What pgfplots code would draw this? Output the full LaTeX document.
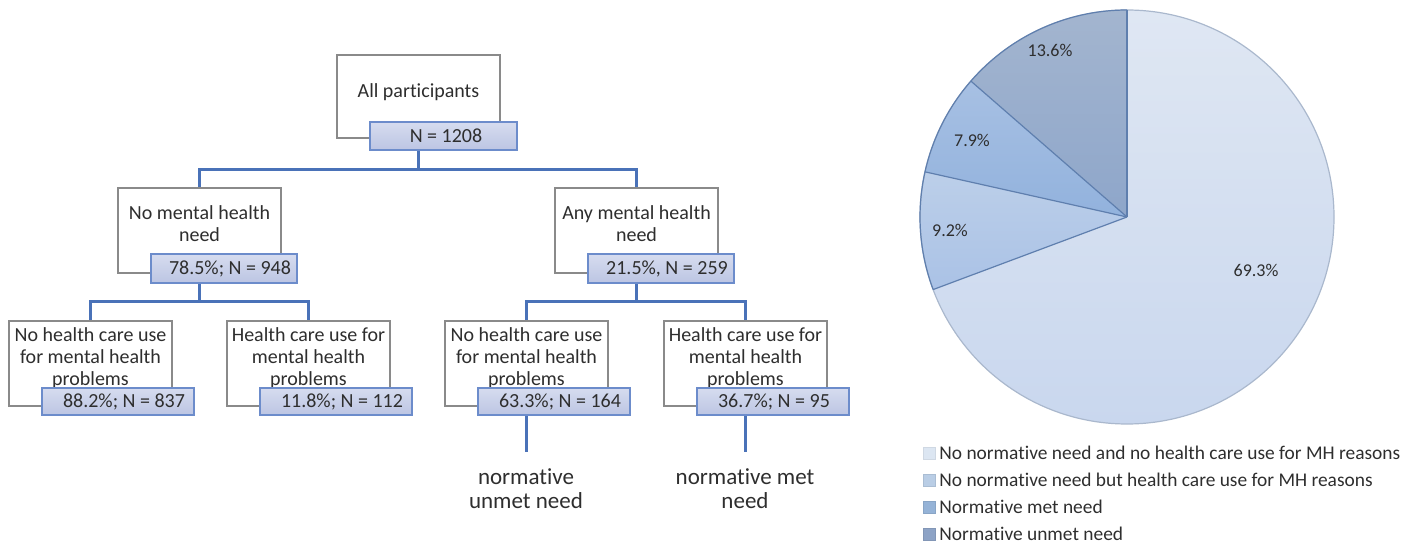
\documentclass[border=0pt]{standalone}
\usepackage{fontspec}
\setmainfont{Carlito}[Ligatures=NoCommon]
\usepackage{pgfplots}
\pgfplotsset{compat=1.18}
\definecolor{linkblue}{HTML}{4A72B8}
\definecolor{boxgray}{HTML}{8A8A8A}
\definecolor{nfillT}{HTML}{D6DCEF}
\definecolor{nfillB}{HTML}{BCC5E3}
\definecolor{nborder}{HTML}{6C8CCB}
\definecolor{txt}{HTML}{2E2E2E}
\definecolor{pieA1}{HTML}{DFE7F3}
\definecolor{pieA2}{HTML}{C9D7EE}
\definecolor{pieB1}{HTML}{BCCFE9}
\definecolor{pieB2}{HTML}{AAC2E6}
\definecolor{pieC1}{HTML}{A7C0E3}
\definecolor{pieC2}{HTML}{92B2DD}
\definecolor{pieD1}{HTML}{A3B5CF}
\definecolor{pieD2}{HTML}{8EA6CA}
\definecolor{pieEdge}{HTML}{5F7FAE}
\definecolor{pieOuter}{HTML}{AAB8CD}
\definecolor{legA}{HTML}{DCE6F2}
\definecolor{legB}{HTML}{B9CDE5}
\definecolor{legC}{HTML}{95B3D7}
\definecolor{legD}{HTML}{8DA3C6}
% pie shares (percent)
\def\pA{69.3}\def\pB{9.2}\def\pC{7.9}\def\pD{13.6}
\def\R{103.5pt}
\newcommand{\treefont}{\fontsize{10}{10.9}\selectfont}
\begin{document}
\begin{tikzpicture}
\begin{axis}[
  scale only axis, width=711pt, height=273pt,
  xmin=0, xmax=1422, ymin=0, ymax=546,
  hide axis, clip=false]
\path (axis cs:0,0) rectangle (axis cs:1422,546);
% ---------- tree connectors ----------
\draw[linkblue, line width=1.5pt] (axis cs:418,396) -- (axis cs:418,376);
\draw[linkblue, line width=1.5pt] (axis cs:199,358) -- (axis cs:199,376) -- (axis cs:636,376) -- (axis cs:636,358);
\draw[linkblue, line width=1.5pt] (axis cs:199,263) -- (axis cs:199,244);
\draw[linkblue, line width=1.5pt] (axis cs:90,225) -- (axis cs:90,244) -- (axis cs:308,244) -- (axis cs:308,225);
\draw[linkblue, line width=1.5pt] (axis cs:636,263) -- (axis cs:636,244);
\draw[linkblue, line width=1.5pt] (axis cs:526,225) -- (axis cs:526,244) -- (axis cs:745,244) -- (axis cs:745,225);
\draw[linkblue, line width=1.5pt] (axis cs:526,131) -- (axis cs:526,94);
\draw[linkblue, line width=1.5pt] (axis cs:745,131) -- (axis cs:745,94);
% ---------- white boxes ----------
\draw[boxgray, line width=0.7pt, fill=white] (axis cs:337,491) rectangle (axis cs:500,408);
\draw[boxgray, line width=0.7pt, fill=white] (axis cs:118,358) rectangle (axis cs:281,273);
\draw[boxgray, line width=0.7pt, fill=white] (axis cs:555,358) rectangle (axis cs:718,273);
\draw[boxgray, line width=0.7pt, fill=white] (axis cs:9,225) rectangle (axis cs:172,140);
\draw[boxgray, line width=0.7pt, fill=white] (axis cs:227,225) rectangle (axis cs:390,140);
\draw[boxgray, line width=0.7pt, fill=white] (axis cs:445,225) rectangle (axis cs:608,140);
\draw[boxgray, line width=0.7pt, fill=white] (axis cs:664,225) rectangle (axis cs:827,140);
\node[txt, font=\treefont, align=center, inner sep=0pt] at (axis cs:418.5,454) {All participants};
\node[txt, font=\treefont, align=center, inner sep=0pt] at (axis cs:199.5,322) {No mental health\\need};
\node[txt, font=\treefont, align=center, inner sep=0pt] at (axis cs:636.5,322) {Any mental health\\need};
\node[txt, font=\treefont, align=center, inner sep=0pt] at (axis cs:90.5,188) {No health care use\\for mental health\\problems};
\node[txt, font=\treefont, align=center, inner sep=0pt] at (axis cs:308.5,188) {Health care use for\\mental health\\problems};
\node[txt, font=\treefont, align=center, inner sep=0pt] at (axis cs:526.5,188) {No health care use\\for mental health\\problems};
\node[txt, font=\treefont, align=center, inner sep=0pt] at (axis cs:745.5,188) {Health care use for\\mental health\\problems};
% ---------- blue boxes ----------
\path[top color=nfillT, bottom color=nfillB, draw=nborder, line width=0.8pt] (axis cs:370,424) rectangle (axis cs:517,396);
\path[top color=nfillT, bottom color=nfillB, draw=nborder, line width=0.8pt] (axis cs:151,292) rectangle (axis cs:297,263);
\path[top color=nfillT, bottom color=nfillB, draw=nborder, line width=0.8pt] (axis cs:588,292) rectangle (axis cs:734,263);
\path[top color=nfillT, bottom color=nfillB, draw=nborder, line width=0.8pt] (axis cs:42,158) rectangle (axis cs:194,131);
\path[top color=nfillT, bottom color=nfillB, draw=nborder, line width=0.8pt] (axis cs:260,158) rectangle (axis cs:412,131);
\path[top color=nfillT, bottom color=nfillB, draw=nborder, line width=0.8pt] (axis cs:478,158) rectangle (axis cs:630,131);
\path[top color=nfillT, bottom color=nfillB, draw=nborder, line width=0.8pt] (axis cs:697,158) rectangle (axis cs:849,131);
\node[txt, font=\treefont, inner sep=0pt] at (axis cs:446,410) {N = 1208};
\node[txt, font=\treefont, inner sep=0pt] at (axis cs:230,277.5) {78.5\%; N = 948};
\node[txt, font=\treefont, inner sep=0pt] at (axis cs:667,277.5) {21.5\%, N = 259};
\node[txt, font=\treefont, inner sep=0pt] at (axis cs:124,144.5) {88.2\%; N = 837};
\node[txt, font=\treefont, inner sep=0pt] at (axis cs:342,144.5) {11.8\%; N = 112};
\node[txt, font=\treefont, inner sep=0pt] at (axis cs:560,144.5) {63.3\%; N = 164};
\node[txt, font=\treefont, inner sep=0pt] at (axis cs:774,144.5) {36.7\%; N = 95};
% ---------- outcome labels ----------
\node[txt, font=\fontsize{11.5}{11.8}\selectfont, align=center, inner sep=0pt] at (axis cs:526,57.5) {normative\\unmet need};
\node[txt, font=\fontsize{11.5}{11.8}\selectfont, align=center, inner sep=0pt] at (axis cs:745,57.5) {normative met\\need};
% ---------- pie ----------
\path[top color=pieA1, bottom color=pieA2] (axis cs:1127,329) -- ++(90:\R) arc[start angle=90, end angle={90-3.6*\pA}, radius=\R] -- cycle;
\path[top color=pieB1, bottom color=pieB2] (axis cs:1127,329) -- ++({90-3.6*\pA}:\R) arc[start angle={90-3.6*\pA}, end angle={90-3.6*(\pA+\pB)}, radius=\R] -- cycle;
\path[top color=pieC1, bottom color=pieC2] (axis cs:1127,329) -- ++({90-3.6*(\pA+\pB)}:\R) arc[start angle={90-3.6*(\pA+\pB)}, end angle={90-3.6*(\pA+\pB+\pC)}, radius=\R] -- cycle;
\path[top color=pieD1, bottom color=pieD2] (axis cs:1127,329) -- ++({90-3.6*(\pA+\pB+\pC)}:\R) arc[start angle={90-3.6*(\pA+\pB+\pC)}, end angle={90-3.6*(\pA+\pB+\pC+\pD)}, radius=\R] -- cycle;
\draw[pieOuter, line width=0.6pt] (axis cs:1127,329) circle[radius=\R];
\draw[pieEdge, line width=0.6pt] (axis cs:1127,329) ++({90-3.6*\pA}:\R) arc[start angle={90-3.6*\pA}, end angle={90-3.6*(\pA+\pB+\pC+\pD)}, radius=\R];
\draw[pieEdge, line width=0.6pt] (axis cs:1127,329) -- ++(90:\R);
\draw[pieEdge, line width=0.6pt] (axis cs:1127,329) -- ++({90-3.6*\pA}:\R);
\draw[pieEdge, line width=0.6pt] (axis cs:1127,329) -- ++({90-3.6*(\pA+\pB)}:\R);
\draw[pieEdge, line width=0.6pt] (axis cs:1127,329) -- ++({90-3.6*(\pA+\pB+\pC)}:\R);
\node[txt, font=\fontsize{9}{10}\selectfont, inner sep=0pt] at (axis cs:1256,276) {69.3\%};
\node[txt, font=\fontsize{9}{10}\selectfont, inner sep=0pt] at (axis cs:950,316) {9.2\%};
\node[txt, font=\fontsize{9}{10}\selectfont, inner sep=0pt] at (axis cs:972,406) {7.9\%};
\node[txt, font=\fontsize{9}{10}\selectfont, inner sep=0pt] at (axis cs:1050,496) {13.6\%};
% ---------- legend ----------
\draw[legA!80!black!30!legA, fill=legA, line width=0.4pt] (axis cs:923,87) rectangle (axis cs:935,99);
\draw[legB!80!black!40!legB, fill=legB, line width=0.4pt] (axis cs:923,60) rectangle (axis cs:935,72);
\draw[legC!80!black!40!legC, fill=legC, line width=0.4pt] (axis cs:923,33) rectangle (axis cs:935,45);
\draw[legD!80!black!40!legD, fill=legD, line width=0.4pt] (axis cs:923,6) rectangle (axis cs:935,18);
\node[txt, font=\fontsize{9.7}{11}\selectfont, anchor=west, inner sep=0pt] at (axis cs:939,93) {No normative need and no health care use for MH reasons};
\node[txt, font=\fontsize{9.7}{11}\selectfont, anchor=west, inner sep=0pt] at (axis cs:939,66) {No normative need but health care use for MH reasons};
\node[txt, font=\fontsize{9.7}{11}\selectfont, anchor=west, inner sep=0pt] at (axis cs:939,39) {Normative met need};
\node[txt, font=\fontsize{9.7}{11}\selectfont, anchor=west, inner sep=0pt] at (axis cs:939,12) {Normative unmet need};
\end{axis}
\end{tikzpicture}
\end{document}
